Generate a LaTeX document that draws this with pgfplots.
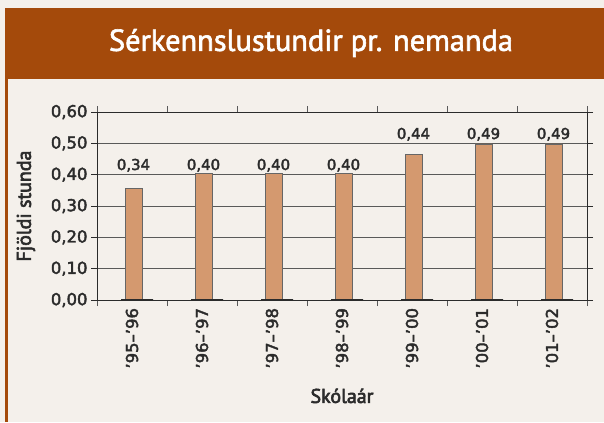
\documentclass[border=0pt]{standalone}
\usepackage{pgfplots}
\pgfplotsset{compat=1.18}
\usepackage{fontspec}
\setmainfont[FakeBold=2.5]{DejaVu Sans}
\newfontfamily\ptsans[FakeBold=3]{PT Sans}
\newfontfamily\ptsanst[FakeBold=2]{PT Sans}
\definecolor{bgc}{HTML}{F4F0EB}
\definecolor{hdr}{HTML}{A44A0B}
\definecolor{barc}{HTML}{D4996F}
\definecolor{txt}{HTML}{2B2B2B}
\begin{document}
\begin{tikzpicture}[x=1bp,y=1bp]
\fill[bgc] (0,0) rectangle (604,422);
\fill[hdr] (5,343) rectangle (604,414);
\fill[hdr] (5,0) rectangle (7.5,343);
\node[white, font=\ptsanst\fontsize{30.5}{36}\selectfont] at (311,379) {Sérkennslustundir pr. nemanda};
\begin{axis}[
  at={(97bp,122bp)}, anchor=south west,
  scale only axis, width=490bp, height=188bp,
  xmin=-0.5, xmax=6.5, ymin=0, ymax=0.6,
  axis line style={draw=txt, line width=0.9bp},
  ytick={0,0.1,0.2,0.3,0.4,0.5,0.6},
  /pgf/number format/fixed, /pgf/number format/fixed zerofill, /pgf/number format/precision=2,
  /pgf/number format/use comma, /pgf/number format/assume math mode=true,
  yticklabel style={font=\fontsize{16.5}{18}\selectfont, text=txt},
  tick align=outside,
  major tick length=6bp,
  minor tick length=6bp,
  ymajorgrids,
  grid style={draw=black!65, line width=0.8bp},
  ytick style={draw=txt, line width=0.8bp},
  xtick={0,...,6},
  xticklabels={'95--'96,'96--'97,'97--'98,'98--'99,'99--'00,'00--'01,'01--'02},
  major x tick style={draw=none},
  minor xtick={-0.5,0.5,1.5,2.5,3.5,4.5,5.5,6.5},
  minor x tick style={draw=black!65, line width=0.8bp},
  xticklabel style={rotate=90, anchor=east, font=\fontsize{16.5}{18}\selectfont, text=txt, xshift=1.5bp},
  clip=false,
]
\addplot[ybar, bar width=17bp, bar shift=1.5bp, fill=barc, draw=black!60, line width=0.8bp]
  coordinates {(0,0.355) (1,0.404) (2,0.404) (3,0.404) (4,0.465) (5,0.498) (6,0.498)};
\addplot[ybar, bar width=32bp, bar shift=5bp, fill=none, draw=txt, line width=1.4bp]
  coordinates {(0,0) (1,0) (2,0) (3,0) (4,0) (5,0) (6,0)};
\addplot[draw=none, mark=none, nodes near coords, point meta=explicit symbolic,
  nodes near coords style={anchor=base, inner sep=0pt, xshift=1.5bp, font=\fontsize{15}{17}\selectfont, text=txt}]
  table[meta=l] {
x y l
0 0.415 {0,34}
1 0.415 {0,40}
2 0.415 {0,40}
3 0.415 {0,40}
4 0.514 {0,44}
5 0.514 {0,49}
6 0.514 {0,49}
};
\node[rotate=90, font=\ptsans\fontsize{20}{22}\selectfont, text=txt] at (axis description cs:-0.145,0.5) {Fjöldi stunda};
\node[font=\ptsans\fontsize{20}{22}\selectfont, text=txt] at (axis description cs:0.5,-0.51) {Skólaár};
\end{axis}
\pgfresetboundingbox
\useasboundingbox (0,0) rectangle (604,422);
\end{tikzpicture}
\end{document}
